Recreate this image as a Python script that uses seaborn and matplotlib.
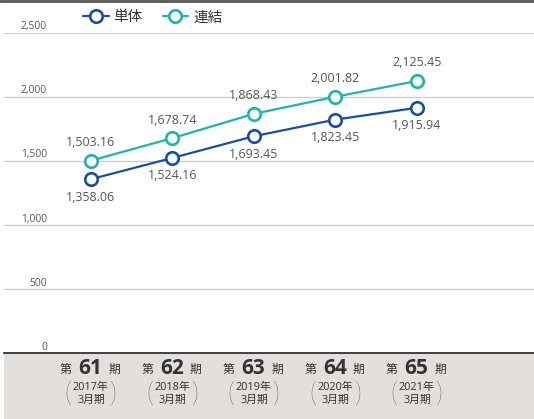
import matplotlib
matplotlib.use("Agg")
import matplotlib.pyplot as plt
import matplotlib.transforms as mtrans
from matplotlib.patches import Rectangle
from matplotlib.lines import Line2D
import pandas as pd
import seaborn as sns

periods = ["61", "62", "63", "64", "65"]
years = ["2017年", "2018年", "2019年", "2020年", "2021年"]
single = [1358.06, 1524.16, 1693.45, 1823.45, 1915.94]
consolidated = [1503.16, 1678.74, 1868.43, 2001.82, 2125.45]
series_names = ["単体", "連結"]
y_ticks = [0, 500, 1000, 1500, 2000, 2500]
y_tick_labels = ["0", "500", "1,000", "1,500", "2,000", "2,500"]

BLUE = "#1c4d9e"
TEAL = "#1db5a8"
TEXT = "#555555"
DARK = "#333333"

sns.set_theme(style="white")
plt.rcParams["font.family"] = ["Open Sans", "Noto Sans CJK JP", "DejaVu Sans"]

df = pd.DataFrame({"idx": range(len(periods)), "single": single, "consolidated": consolidated})

fig = plt.figure(figsize=(5.34, 4.19), dpi=100)
fig.patch.set_facecolor("white")
ax = fig.add_axes([4 / 534, 66 / 419, 530 / 534, 320 / 419])
ax.set_facecolor("none")

marker_kw = dict(marker="o", markersize=9, markerfacecolor="white", markeredgewidth=1.9,
                 linewidth=1.6, zorder=5, clip_on=False)
sns.lineplot(data=df, x="idx", y="single", color=BLUE, markeredgecolor=BLUE,
             label=series_names[0], ax=ax, **marker_kw)
sns.lineplot(data=df, x="idx", y="consolidated", color=TEAL, markeredgecolor=TEAL,
             label=series_names[1], ax=ax, **marker_kw)

ax.set_xlim(-1.067, 5.436)
ax.set_ylim(0, 2500)
ax.set_xlabel("")
ax.set_ylabel("")
ax.set_xticks([])
ax.set_yticks(y_ticks)
ax.set_yticklabels(y_tick_labels)
ax.tick_params(axis="y", length=0, pad=-31, labelsize=7.4, labelcolor=TEXT)
shift = mtrans.ScaledTranslation(0, 7.5 / 100, fig.dpi_scale_trans)
for lab in ax.get_yticklabels():
    lab.set_transform(lab.get_transform() + shift)
ax.grid(axis="y", color="#cccccc", linewidth=0.9)
for s in ["left", "right", "top"]:
    ax.spines[s].set_visible(False)
ax.spines["bottom"].set_color(DARK)
ax.spines["bottom"].set_linewidth(1.3)

# value labels
for i, v in enumerate(consolidated):
    ax.annotate(f"{v:,.2f}", (i, v), xytext=(0, 18), textcoords="offset pixels",
                ha="center", va="center", fontsize=9, color=TEXT)
for i, v in enumerate(single):
    ax.annotate(f"{v:,.2f}", (i, v), xytext=(0, -18), textcoords="offset pixels",
                ha="center", va="center", fontsize=9, color=TEXT)

# category labels in the band
xc = ("data", "axes fraction")
lbl = dict(xycoords=xc, textcoords="offset pixels", ha="center", va="center",
           color=DARK, annotation_clip=False)
for i, (p, yr) in enumerate(zip(periods, years)):
    ax.annotate("第", (i, 0), xytext=(-25.5, -16), fontsize=8.5, **lbl)
    ax.annotate(p, (i, 0), xytext=(-0.5, -15), fontsize=15, fontweight="bold", **lbl)
    ax.annotate("期", (i, 0), xytext=(23, -16), fontsize=8.5, **lbl)
    ax.annotate(yr, (i, 0), xytext=(-0.5, -34), fontsize=7.8, **lbl)
    ax.annotate("3月期", (i, 0), xytext=(0.5, -47), fontsize=7.8, **lbl)
    ax.annotate("(", (i, 0), xytext=(-23, -41), fontsize=20, fontweight="light",
                family="Lato", **lbl)
    ax.annotate(")", (i, 0), xytext=(22.5, -41), fontsize=20, fontweight="light",
                family="Lato", **lbl)

leg = ax.legend(loc="center left", bbox_to_anchor=(83 / 534, 1 - 18 / 419),
                bbox_transform=fig.transFigure, ncol=2, frameon=False, fontsize=10.5,
                handlelength=1.75, handletextpad=0.35, columnspacing=1.35, borderaxespad=0,
                borderpad=0)
for t in leg.get_texts():
    t.set_color(DARK)

fig.patches.append(Rectangle((4 / 534, 0), 530 / 534, 66 / 419, transform=fig.transFigure,
                             facecolor="#e3dfdc", edgecolor="none", zorder=-1))
fig.lines.append(Line2D([0, 1], [1 - 1 / 419, 1 - 1 / 419], transform=fig.transFigure,
                        color="#555555", linewidth=2))

fig.savefig("out.png", dpi=100)
